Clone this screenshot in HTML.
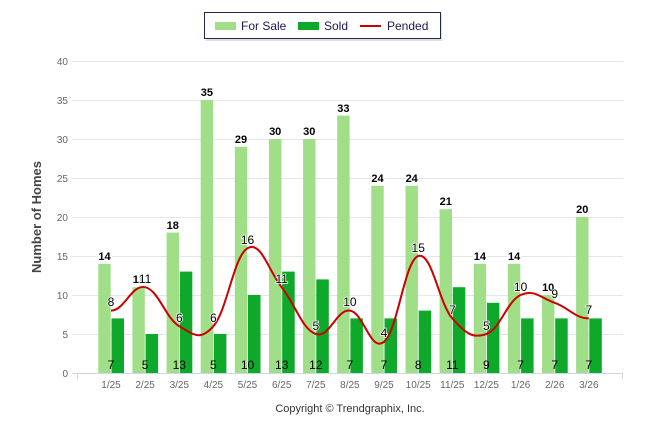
<!DOCTYPE html>
<html><head><meta charset="utf-8"><style>
body{margin:0;background:#fff;width:646px;height:434px;overflow:hidden}
svg{display:block;font-family:"Liberation Sans",Arial,sans-serif}
.fs{font-size:11px;font-weight:bold;fill:#000;stroke:#fff;stroke-width:2.5px;paint-order:stroke;text-anchor:middle}
.sd{font-size:12px;fill:#000;text-anchor:middle}
.pd{font-size:12px;fill:#000;stroke:#fff;stroke-width:1.5px;paint-order:stroke;text-anchor:middle}
.xl{font-size:10px;fill:#666;text-anchor:middle}
.yl{font-size:10px;fill:#666;text-anchor:end}
</style></head><body>
<svg width="646" height="434" viewBox="0 0 646 434">
<rect x="0" y="0" width="646" height="434" fill="#fff"/>
<rect x="206" y="14" width="236" height="27" fill="#ccc" opacity="0.6"/>
<rect x="204.5" y="12.5" width="236" height="26" fill="#fff" stroke="#1f2a4a" stroke-width="1"/>
<rect x="215" y="22" width="21" height="8" fill="#a0de88"/>
<text x="241" y="30" font-size="12" fill="#1a1a55">For Sale</text>
<rect x="298" y="22" width="21" height="8" fill="#0ea82a"/>
<text x="324" y="30" font-size="12" fill="#1a1a55">Sold</text>
<line x1="360" y1="26" x2="381" y2="26" stroke="#cc0000" stroke-width="2"/>
<text x="387" y="30" font-size="12" fill="#1a1a55">Pended</text>
<g stroke="#e6e6e6" stroke-width="1">
<line x1="72" y1="61.5" x2="623" y2="61.5"/>
<line x1="72" y1="100.5" x2="623" y2="100.5"/>
<line x1="72" y1="139.5" x2="623" y2="139.5"/>
<line x1="72" y1="178.5" x2="623" y2="178.5"/>
<line x1="72" y1="217.5" x2="623" y2="217.5"/>
<line x1="72" y1="256.5" x2="623" y2="256.5"/>
<line x1="72" y1="295.5" x2="623" y2="295.5"/>
<line x1="72" y1="334.5" x2="623" y2="334.5"/>
</g>
<line x1="72" y1="373.5" x2="623" y2="373.5" stroke="#ccd6eb"/>
<g stroke="#ccd6eb"><line x1="77.5" y1="373" x2="77.5" y2="379"/><line x1="622.5" y1="373" x2="622.5" y2="379"/></g>
<g class="yl">
<text x="68" y="65">40</text><text x="68" y="104">35</text><text x="68" y="143">30</text><text x="68" y="182">25</text>
<text x="68" y="221">20</text><text x="68" y="260">15</text><text x="68" y="299">10</text><text x="68" y="338">5</text><text x="68" y="377">0</text>
</g>
<text transform="translate(41,217) rotate(-90)" font-size="13" font-weight="bold" fill="#444" text-anchor="middle">Number of Homes</text>
<g fill="#a0de88">
<rect x="98.3" y="263.8" width="12.4" height="109.2"/>
<rect x="132.4" y="287.2" width="12.4" height="85.8"/>
<rect x="166.6" y="232.6" width="12.4" height="140.4"/>
<rect x="200.7" y="100" width="12.4" height="273"/>
<rect x="234.8" y="146.8" width="12.4" height="226.2"/>
<rect x="269" y="139" width="12.4" height="234"/>
<rect x="303.1" y="139" width="12.4" height="234"/>
<rect x="337.2" y="115.6" width="12.4" height="257.4"/>
<rect x="371.3" y="185.8" width="12.4" height="187.2"/>
<rect x="405.5" y="185.8" width="12.4" height="187.2"/>
<rect x="439.6" y="209.2" width="12.4" height="163.8"/>
<rect x="473.7" y="263.8" width="12.4" height="109.2"/>
<rect x="507.9" y="263.8" width="12.4" height="109.2"/>
<rect x="542" y="295" width="12.4" height="78"/>
<rect x="576.1" y="217" width="12.4" height="156"/>
</g>
<g fill="#0ea82a">
<rect x="111.5" y="318.4" width="12.5" height="54.6"/>
<rect x="145.6" y="334" width="12.5" height="39"/>
<rect x="179.8" y="271.6" width="12.5" height="101.4"/>
<rect x="213.9" y="334" width="12.5" height="39"/>
<rect x="248" y="295" width="12.5" height="78"/>
<rect x="282.2" y="271.6" width="12.5" height="101.4"/>
<rect x="316.3" y="279.4" width="12.5" height="93.6"/>
<rect x="350.4" y="318.4" width="12.5" height="54.6"/>
<rect x="384.5" y="318.4" width="12.5" height="54.6"/>
<rect x="418.7" y="310.6" width="12.5" height="62.4"/>
<rect x="452.8" y="287.2" width="12.5" height="85.8"/>
<rect x="486.9" y="302.8" width="12.5" height="70.2"/>
<rect x="521.1" y="318.4" width="12.5" height="54.6"/>
<rect x="555.2" y="318.4" width="12.5" height="54.6"/>
<rect x="589.3" y="318.4" width="12.5" height="54.6"/>
</g>
<path fill="none" stroke="#cc0000" stroke-width="2" d="M111,310.6
C124.65,310.6 131.45,284.08 145.1,287.2
C158.75,290.32 165.65,318.4 179.3,326.2
C192.95,334 199.75,341.8 213.4,326.2
C227.05,310.6 233.85,256 247.5,248.2
C261.15,240.4 268.05,270.04 281.7,287.2
C295.35,304.36 302.15,329.32 315.8,334
C329.45,338.68 336.25,309.04 349.9,310.6
C363.55,312.16 370.35,352.72 384,341.8
C397.65,330.88 404.55,260.68 418.2,256
C431.85,251.32 438.65,302.8 452.3,318.4
C465.95,334 472.75,338.68 486.4,334
C500.05,329.32 506.95,301.24 520.6,295
C534.25,288.76 541.05,298.12 554.7,302.8
C568.35,307.48 575.15,318.4 588.8,318.4"/>
<g class="fs">
<text x="104.5" y="260">14</text><text x="138.6" y="283">11</text><text x="172.8" y="229">18</text><text x="206.9" y="96">35</text>
<text x="241" y="143">29</text><text x="275.2" y="135">30</text><text x="309.3" y="135">30</text><text x="343.4" y="112">33</text>
<text x="377.5" y="182">24</text><text x="411.7" y="182">24</text><text x="445.8" y="205">21</text><text x="479.9" y="260">14</text>
<text x="514.1" y="260">14</text><text x="548.2" y="291">10</text><text x="582.3" y="213">20</text>
</g>
<g class="sd">
<text x="111" y="369">7</text><text x="145.1" y="369">5</text><text x="179.3" y="369">13</text><text x="213.4" y="369">5</text>
<text x="247.5" y="369">10</text><text x="281.7" y="369">13</text><text x="315.8" y="369">12</text><text x="349.9" y="369">7</text>
<text x="384" y="369">7</text><text x="418.2" y="369">8</text><text x="452.3" y="369">11</text><text x="486.4" y="369">9</text>
<text x="520.6" y="369">7</text><text x="554.7" y="369">7</text><text x="588.8" y="369">7</text>
</g>
<g class="pd">
<text x="111" y="306">8</text><text x="145.1" y="283">11</text><text x="179.3" y="322">6</text><text x="213.4" y="322">6</text>
<text x="247.5" y="244">16</text><text x="281.7" y="283">11</text><text x="315.8" y="330">5</text><text x="349.9" y="306">10</text>
<text x="384" y="337">4</text><text x="418.2" y="252">15</text><text x="452.3" y="314">7</text><text x="486.4" y="330">5</text>
<text x="520.6" y="291">10</text><text x="554.7" y="298">9</text><text x="588.8" y="314">7</text>
</g>
<g class="xl">
<text x="111" y="388">1/25</text><text x="145.1" y="388">2/25</text><text x="179.3" y="388">3/25</text><text x="213.4" y="388">4/25</text>
<text x="247.5" y="388">5/25</text><text x="281.7" y="388">6/25</text><text x="315.8" y="388">7/25</text><text x="349.9" y="388">8/25</text>
<text x="384" y="388">9/25</text><text x="418.2" y="388">10/25</text><text x="452.3" y="388">11/25</text><text x="486.4" y="388">12/25</text>
<text x="520.6" y="388">1/26</text><text x="554.7" y="388">2/26</text><text x="588.8" y="388">3/26</text>
</g>
<text x="350" y="412" font-size="11" fill="#333" text-anchor="middle">Copyright © Trendgraphix, Inc.</text>
</svg>
</body></html>
